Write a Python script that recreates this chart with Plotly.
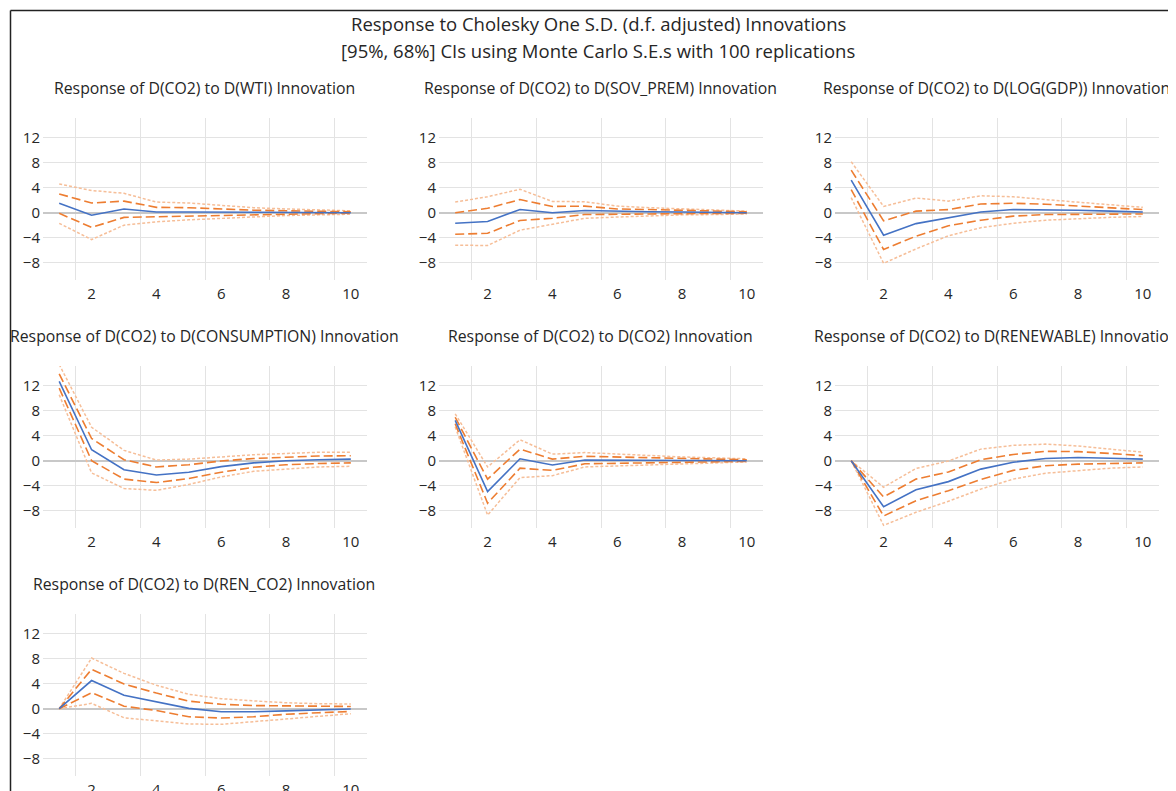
import plotly.graph_objects as go

OFF = 8  # page body margin in the browser
W, H = 1176 - OFF, 791 - OFF
periods = list(range(1, 11))

titles = [
    "Response of D(CO2) to D(WTI) Innovation",
    "Response of D(CO2) to D(SOV_PREM) Innovation",
    "Response of D(CO2) to D(LOG(GDP)) Innovation",
    "Response of D(CO2) to D(CONSUMPTION) Innovation",
    "Response of D(CO2) to D(CO2) Innovation",
    "Response of D(CO2) to D(RENEWABLE) Innovation",
    "Response of D(CO2) to D(REN_CO2) Innovation",
]

# each panel: response, upper 68, lower 68, upper 95, lower 95
wti_resp = [1.5, -0.4, 0.6, 0.1, 0.1, 0.1, 0.05, 0.05, 0.0, 0.0]
wti_u68 = [3.0, 1.55, 1.85, 0.85, 0.8, 0.55, 0.4, 0.3, 0.2, 0.15]
wti_l68 = [-0.1, -2.35, -0.75, -0.65, -0.45, -0.35, -0.25, -0.2, -0.15, -0.1]
wti_u95 = [4.6, 3.55, 3.1, 1.7, 1.55, 1.15, 0.8, 0.6, 0.4, 0.3]
wti_l95 = [-1.7, -4.3, -2.0, -1.45, -1.15, -0.9, -0.6, -0.45, -0.35, -0.25]

sov_resp = [-1.7, -1.4, 0.5, 0.0, 0.35, 0.2, 0.15, 0.1, 0.05, 0.0]
sov_u68 = [0.0, 0.7, 2.1, 1.0, 1.05, 0.6, 0.5, 0.4, 0.25, 0.15]
sov_l68 = [-3.45, -3.3, -1.25, -0.9, -0.3, -0.3, -0.2, -0.15, -0.1, -0.1]
sov_u95 = [1.7, 2.55, 3.75, 1.8, 1.75, 1.05, 0.8, 0.6, 0.4, 0.25]
sov_l95 = [-5.2, -5.25, -2.8, -1.85, -0.9, -0.7, -0.5, -0.35, -0.3, -0.2]

gdp_resp = [5.2, -3.6, -1.75, -0.8, 0.1, 0.5, 0.5, 0.4, 0.25, 0.1]
gdp_u68 = [6.8, -1.3, 0.25, 0.5, 1.4, 1.5, 1.35, 1.1, 0.8, 0.5]
gdp_l68 = [3.7, -5.9, -3.75, -2.1, -1.2, -0.55, -0.3, -0.25, -0.2, -0.2]
gdp_u95 = [8.15, 1.0, 2.35, 1.85, 2.7, 2.55, 2.1, 1.7, 1.2, 0.85]
gdp_l95 = [2.4, -8.1, -5.8, -3.7, -2.4, -1.7, -1.2, -0.95, -0.75, -0.6]

con_resp = [12.7, 1.75, -1.45, -2.3, -1.85, -0.95, -0.35, 0.0, 0.15, 0.25]
con_u68 = [13.9, 3.55, 0.15, -1.0, -0.65, -0.05, 0.35, 0.6, 0.75, 0.8]
con_l68 = [11.6, 0.0, -2.95, -3.5, -2.85, -1.85, -1.05, -0.65, -0.45, -0.35]
con_u95 = [15.4, 5.35, 1.65, 0.1, 0.25, 0.65, 0.95, 1.15, 1.35, 1.35]
con_l95 = [10.55, -1.95, -4.45, -4.75, -3.8, -2.6, -1.7, -1.3, -1.0, -0.9]

co2_resp = [6.45, -4.95, 0.3, -0.7, 0.1, 0.1, 0.1, 0.05, 0.0, 0.0]
co2_u68 = [6.95, -2.95, 1.85, 0.25, 0.7, 0.6, 0.45, 0.35, 0.25, 0.15]
co2_l68 = [5.9, -6.8, -1.2, -1.55, -0.5, -0.4, -0.3, -0.2, -0.15, -0.1]
co2_u95 = [7.5, -1.0, 3.35, 1.05, 1.3, 1.05, 0.8, 0.6, 0.45, 0.3]
co2_l95 = [5.4, -8.7, -2.7, -2.4, -1.0, -0.85, -0.6, -0.45, -0.3, -0.2]

ren_resp = [0.0, -7.35, -4.65, -3.35, -1.35, -0.25, 0.35, 0.5, 0.4, 0.25]
ren_u68 = [0.0, -5.8, -2.95, -1.8, 0.15, 1.0, 1.5, 1.45, 1.15, 0.8]
ren_l68 = [0.0, -8.85, -6.4, -4.8, -3.0, -1.55, -0.8, -0.55, -0.45, -0.35]
ren_u95 = [0.0, -4.25, -1.25, -0.05, 1.85, 2.45, 2.65, 2.35, 1.85, 1.35]
ren_l95 = [0.0, -10.35, -8.25, -6.5, -4.55, -2.95, -2.0, -1.55, -1.2, -1.0]

rc_resp = [0.0, 4.5, 2.15, 1.1, 0.05, -0.5, -0.5, -0.35, -0.2, -0.05]
rc_u68 = [0.0, 6.3, 3.95, 2.5, 1.2, 0.7, 0.5, 0.45, 0.4, 0.35]
rc_l68 = [0.0, 2.55, 0.4, -0.3, -1.3, -1.5, -1.3, -0.9, -0.65, -0.45]
rc_u95 = [0.0, 8.1, 5.65, 3.75, 2.3, 1.6, 1.25, 0.95, 0.8, 0.75]
rc_l95 = [0.0, 0.85, -1.45, -1.9, -2.45, -2.5, -2.1, -1.6, -1.2, -0.8]

panels = [
    (wti_resp, wti_u68, wti_l68, wti_u95, wti_l95),
    (sov_resp, sov_u68, sov_l68, sov_u95, sov_l95),
    (gdp_resp, gdp_u68, gdp_l68, gdp_u95, gdp_l95),
    (con_resp, con_u68, con_l68, con_u95, con_l95),
    (co2_resp, co2_u68, co2_l68, co2_u95, co2_l95),
    (ren_resp, ren_u68, ren_l68, ren_u95, ren_l95),
    (rc_resp, rc_u68, rc_l68, rc_u95, rc_l95),
]

y_ticks = [-8, -4, 0, 4, 8, 12]
x_ticks = [2, 4, 6, 8, 10]

main_title_1 = "Response to Cholesky One S.D. (d.f. adjusted) Innovations"
main_title_2 = "[95%, 68%] CIs using Monte Carlo S.E.s with 100 replications"

BLUE = "#4472C4"
ORANGE = "#ED7D31"
LIGHT = "#F6BE98"
FONT = "Open Sans"
TXT = "#262626"

# positions in reference-window pixels
col_px = [(43, 367), (439, 763), (835, 1159)]
row_top = [118, 366, 614]
plot_h = 162
title_y = [88, 336, 584]
title_cx = [204, 600, 996]


def px(v):
    return (v - OFF) / W


def py(v):
    return 1 - (v - OFF) / H


fig = go.Figure()
layout = dict(
    width=W, height=H, margin=dict(l=0, r=0, t=0, b=0, pad=0, autoexpand=False),
    paper_bgcolor="white", plot_bgcolor="white", showlegend=False,
    font=dict(family=FONT, color=TXT),
)
annotations = []

for i, (resp, u68, l68, u95, l95) in enumerate(panels):
    r, c = divmod(i, 3)
    n = i + 1
    xa = "x" if n == 1 else f"x{n}"
    ya = "y" if n == 1 else f"y{n}"
    x0, x1 = col_px[c]
    top = row_top[r]
    bot = top + plot_h
    for vals, color, dash, width in [
        (u95, LIGHT, "3px,2px", 1.5),
        (l95, LIGHT, "3px,2px", 1.5),
        (u68, ORANGE, "9px,4px", 1.6),
        (l68, ORANGE, "9px,4px", 1.6),
        (resp, BLUE, "solid", 1.6),
    ]:
        fig.add_trace(go.Scatter(
            x=periods, y=vals, mode="lines", xaxis=xa, yaxis=ya,
            line=dict(color=color, dash=dash, width=width),
            hoverinfo="skip",
        ))
    xkey = "xaxis" if n == 1 else f"xaxis{n}"
    ykey = "yaxis" if n == 1 else f"yaxis{n}"
    layout[xkey] = dict(
        domain=[px(x0), px(x1)], anchor=ya, range=[0.5, 10.5],
        tickvals=x_ticks, showgrid=False, zeroline=False, showline=False,
        ticks="", ticklabelstandoff=3, automargin=False,
        tickfont=dict(size=15, family=FONT, color=TXT),
        minor=dict(tick0=1.5, dtick=2, showgrid=True, gridcolor="#E3E3E3",
                   gridwidth=1, ticks=""),
        fixedrange=True,
    )
    layout[ykey] = dict(
        domain=[py(bot), py(top)], anchor=xa, range=[-10.77, 15.15],
        tickvals=y_ticks, showgrid=True, gridcolor="#E3E3E3", gridwidth=1,
        zeroline=True, zerolinecolor="#C8C8C8", zerolinewidth=2,
        showline=False, ticks="", ticklabelstandoff=2, automargin=False,
        tickfont=dict(size=15, family=FONT, color=TXT),
        fixedrange=True,
    )
    annotations.append(dict(
        text=titles[i], xref="paper", yref="paper",
        x=px(title_cx[c]), y=py(title_y[r]),
        xanchor="center", yanchor="middle", showarrow=False,
        font=dict(size=15.8, family=FONT, color=TXT),
    ))

for txt, yy in [(main_title_1, 24), (main_title_2, 51)]:
    annotations.append(dict(text=txt, xref="paper", yref="paper",
                            x=px(598), y=py(yy), xanchor="center", yanchor="middle",
                            showarrow=False, font=dict(size=18.5, family=FONT, color=TXT)))
layout["annotations"] = annotations
layout["shapes"] = [
    dict(type="line", xref="paper", yref="paper", x0=px(10.5), x1=1, y0=py(10.5), y1=py(10.5),
         line=dict(color="#222222", width=1.5)),
    dict(type="line", xref="paper", yref="paper", x0=px(10.5), x1=px(10.5), y0=0, y1=py(10.5),
         line=dict(color="#222222", width=1.5)),
]
fig.update_layout(**layout)
fig.write_html("out.html")
